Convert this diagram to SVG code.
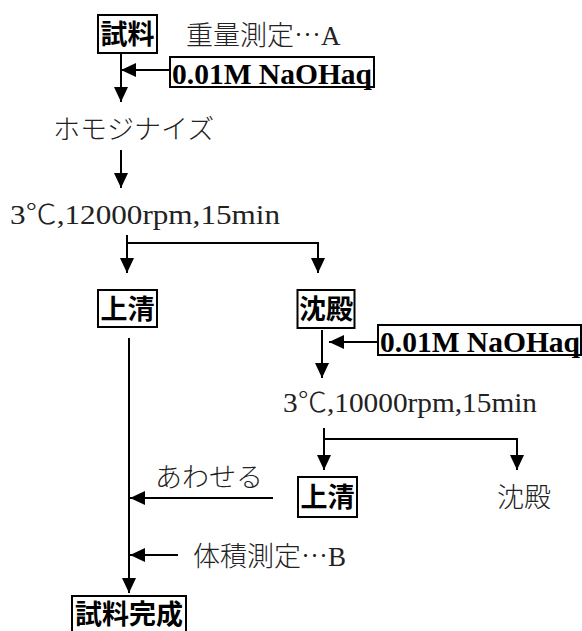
<svg xmlns="http://www.w3.org/2000/svg" width="582" height="631" viewBox="0 0 582 631">
<style>
.box{fill:#fff;stroke:#000;stroke-width:2}
.lbl{font-family:"Noto Sans CJK JP","Noto Sans CJK SC",sans-serif;font-weight:700;font-size:27px;fill:#000}
.num{font-family:"Liberation Serif","Noto Sans CJK JP",serif;font-weight:700;font-size:30px;fill:#000}
.txt{font-family:"Liberation Serif","Noto Sans CJK JP",serif;font-weight:300;font-size:27px;fill:#222}
.cj{font-family:"Noto Sans CJK JP",sans-serif;font-weight:300}
.ln{fill:none;stroke:#000;stroke-width:2}
.ar{fill:none;stroke:#000;stroke-width:2;marker-end:url(#ah)}
</style>
<defs>
<marker id="ah" viewBox="0 0 15 14" refX="15" refY="7" markerWidth="15" markerHeight="14" markerUnits="userSpaceOnUse" orient="auto">
<path d="M0,0 L15,7 L0,14 z" fill="#000"/>
</marker>
</defs>
<rect width="582" height="631" fill="#fff"/>
<g id="connectors">
<path class="ar" d="M121,53 V102"/>
<path class="ar" d="M170,70 H121"/>
<path class="ar" d="M121,150 V188"/>
<path class="ar" d="M127,235 V273"/>
<path class="ar" d="M127,243 H318 V273"/>
<path class="ar" d="M129,338 V593"/>
<path class="ar" d="M322,330 V378"/>
<path class="ar" d="M378,342 H329"/>
<path class="ar" d="M324,428 V470"/>
<path class="ar" d="M324,439 H517 V470"/>
<path class="ar" d="M273,498 H130"/>
<path class="ar" d="M178,555 H130"/>
</g>
<g id="sample">
<rect class="box" x="98" y="15" width="59" height="38"/>
<text class="lbl" x="127.5" y="44" text-anchor="middle">試料</text>
</g>
<g id="weigh">
<text class="txt" x="186" y="45">重量測定<tspan class="cj">…</tspan>A</text>
</g>
<g id="naoh1">
<rect class="box" x="170" y="57" width="204" height="30"/>
<text class="num" x="172" y="84" textLength="200" lengthAdjust="spacingAndGlyphs">0.01M NaOHaq</text>
</g>
<g id="homog">
<text class="txt" x="53" y="139">ホモジナイズ</text>
</g>
<g id="cent1">
<text class="txt" x="10" y="224" font-size="28" textLength="270" lengthAdjust="spacingAndGlyphs">3℃,12000rpm,15min</text>
</g>
<g id="sup1">
<rect class="box" x="98" y="290" width="59" height="37"/>
<text class="lbl" x="127.5" y="319" text-anchor="middle">上清</text>
</g>
<g id="ppt1">
<rect class="box" x="297.5" y="290" width="57" height="38"/>
<text class="lbl" x="326" y="319" text-anchor="middle">沈殿</text>
</g>
<g id="naoh2">
<rect class="box" x="378" y="325" width="203" height="30"/>
<text class="num" x="380" y="352" textLength="200" lengthAdjust="spacingAndGlyphs">0.01M NaOHaq</text>
</g>
<g id="cent2">
<text class="txt" x="283" y="412" font-size="28" textLength="254" lengthAdjust="spacingAndGlyphs">3℃,10000rpm,15min</text>
</g>
<g id="sup2">
<rect class="box" x="298" y="477" width="59" height="40"/>
<text class="lbl" x="327.5" y="507" text-anchor="middle">上清</text>
</g>
<g id="ppt2">
<text class="txt" x="497" y="507">沈殿</text>
</g>
<g id="combine">
<text class="txt" x="155" y="487">あわせる</text>
</g>
<g id="volume">
<text class="txt" x="193" y="566">体積測定<tspan class="cj">…</tspan>B</text>
</g>
<g id="done">
<rect class="box" x="72" y="596" width="114" height="40"/>
<text class="lbl" x="129" y="624" text-anchor="middle">試料完成</text>
</g>
</svg>
